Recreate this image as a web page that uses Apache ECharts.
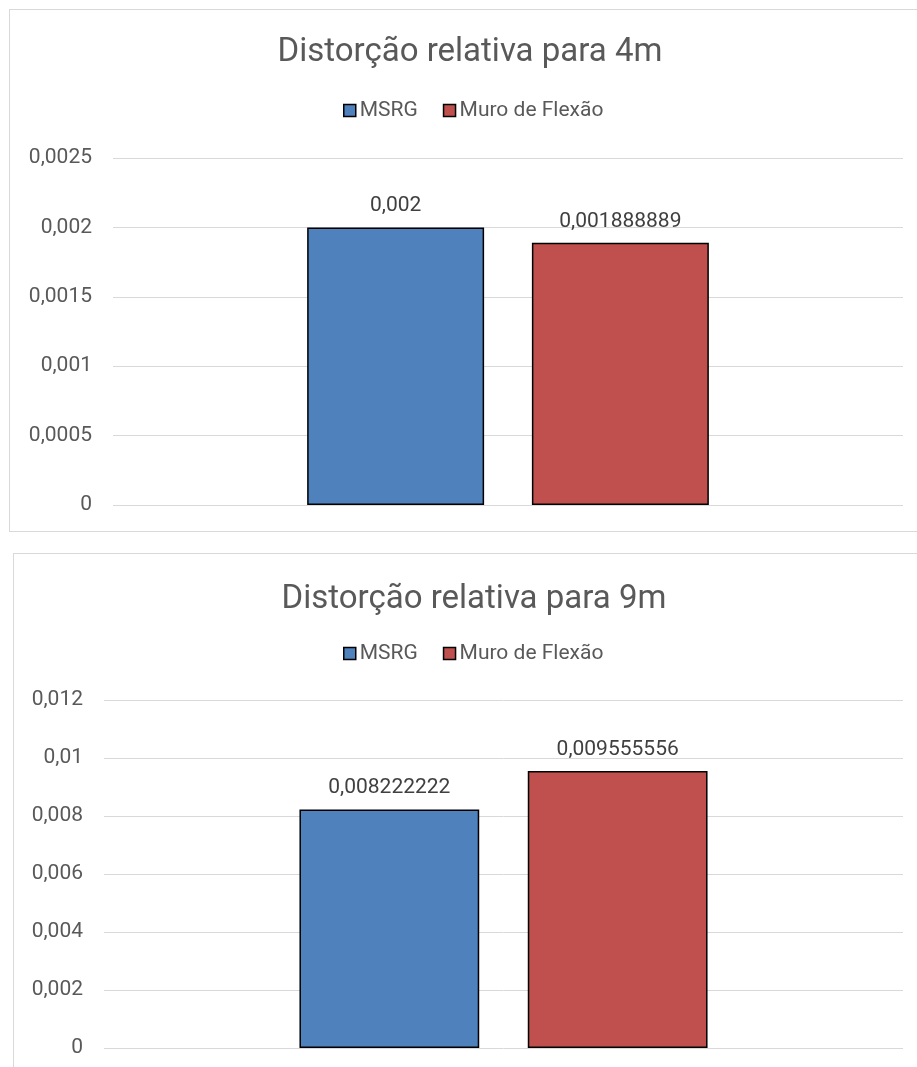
<!DOCTYPE html>
<html>
<head>
<meta charset="utf-8">
<script src="https://cdn.jsdelivr.net/npm/echarts@6/dist/echarts.min.js"></script>
<style>
  html, body { margin: 0; padding: 0; background: #fff; width: 917px; height: 1067px; overflow: hidden; position: relative; }
  .box { position: absolute; border: 1px solid #D9D9D9; background: #fff; }
  #c1 { left: 9px; top: 9px; width: 920px; height: 521px; }
  #c2 { left: 13px; top: 553px; width: 920px; height: 530px; }
</style>
</head>
<body>
<div id="c1" class="box"></div>
<div id="c2" class="box"></div>
<script>
// Relative drift of the two wall systems at 4 m and 9 m
const seriesNames = ['MSRG', 'Muro de Flexão'];
const seriesColors = ['#4F81BD', '#C0504D'];
const categories = [''];

const title4m = 'Distorção relativa para 4m';
const msrg4m = [0.002];
const muro4m = [0.001888889];
const axis4m = { min: 0, max: 0.0025, interval: 0.0005 };

const title9m = 'Distorção relativa para 9m';
const msrg9m = [0.008222222];
const muro9m = [0.009555556];
const axis9m = { min: 0, max: 0.012, interval: 0.002 };

const FONT = 'Roboto';
const comma = v => String(Number(Number(v).toPrecision(9))).replace('.', ',');

function build(title, a, b, axis, L) {
  const mk = (name, data, color) => ({
    name, type: 'bar', data,
    barWidth: L.barWidth, barGap: '27%',
    itemStyle: { color, borderColor: '#000', borderWidth: 1.5 },
    label: {
      show: true, position: 'top', distance: 11,
      formatter: p => comma(p.value),
      fontFamily: FONT, fontSize: 21, color: '#404040'
    }
  });
  return {
    animation: false,
    textStyle: { fontFamily: FONT },
    title: {
      text: title, left: 'center', top: L.titleTop, padding: 0,
      textStyle: { fontFamily: FONT, fontSize: 33, fontWeight: 'normal', color: '#595959' }
    },
    legend: {
      data: seriesNames, left: L.legendLeft, top: L.legendTop, padding: 0,
      icon: 'rect', itemWidth: 12, itemHeight: 12, itemGap: 25,
      itemStyle: { borderColor: '#000', borderWidth: 1.5 },
      textStyle: { fontFamily: FONT, fontSize: 21, color: '#595959', padding: [0, 0, 0, -1] }
    },
    grid: { left: L.gridLeft, top: L.gridTop, width: L.gridWidth, height: L.gridHeight, containLabel: false },
    xAxis: {
      type: 'category', data: categories,
      axisLine: { show: false }, axisTick: { show: false }, axisLabel: { show: false }
    },
    yAxis: {
      type: 'value', min: axis.min, max: axis.max, interval: axis.interval,
      axisLine: { show: false }, axisTick: { show: false },
      axisLabel: { formatter: comma, fontFamily: FONT, fontSize: 21, color: '#595959', margin: 21 },
      splitLine: { lineStyle: { color: '#D9D9D9', width: 1 } }
    },
    series: [mk(seriesNames[0], a, seriesColors[0]), mk(seriesNames[1], b, seriesColors[1])]
  };
}

const chart1 = echarts.init(document.getElementById('c1'), null, { renderer: 'canvas' });
chart1.setOption(build(title4m, msrg4m, muro4m, axis4m, {
  titleTop: 26, legendLeft: 333, legendTop: 90,
  gridLeft: 103, gridTop: 148, gridWidth: 790, gridHeight: 347, barWidth: '22.4%'
}));

const chart2 = echarts.init(document.getElementById('c2'), null, { renderer: 'canvas' });
chart2.setOption(build(title9m, msrg9m, muro9m, axis9m, {
  titleTop: 29, legendLeft: 329, legendTop: 89,
  gridLeft: 90, gridTop: 146, gridWidth: 799, gridHeight: 348, barWidth: '22.5%'
}));
</script>
</body>
</html>
